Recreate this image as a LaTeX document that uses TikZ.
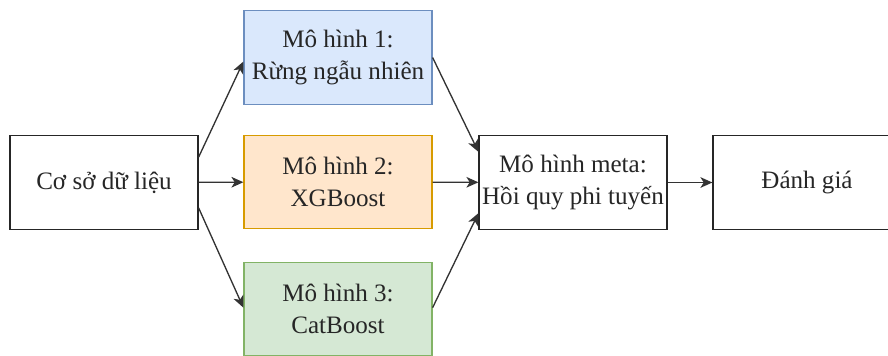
\documentclass[tikz,border=0pt]{standalone}
\usepackage{fontspec}
\setmainfont{Liberation Serif}
\usepackage{tikz}
\usetikzlibrary{arrows.meta}

\definecolor{blueFill}{HTML}{DAE8FC}
\definecolor{blueLine}{HTML}{6C8EBF}
\definecolor{orangeFill}{HTML}{FFE6CC}
\definecolor{orangeLine}{HTML}{D79B00}
\definecolor{greenFill}{HTML}{D5E8D4}
\definecolor{greenLine}{HTML}{82B366}

\tikzset{
  box/.style={draw=black!85,line width=0.9pt,minimum width=141pt,minimum height=70pt,
    inner sep=0pt,align=center,text=black!85,font=\fontsize{18.8}{24}\selectfont},
  link/.style={draw=black!80,line width=1pt,-{Stealth[length=9pt,width=8pt,inset=2.5pt]}}
}

\begin{document}
\begin{tikzpicture}[x=0.75pt,y=-0.75pt]
\useasboundingbox (0,0) rectangle (888,355);
\clip (0,0) rectangle (888,355);

\node[box] (data) at (104,182.5) {Cơ sở dữ liệu};
\node[box,fill=blueFill,draw=blueLine] (mod1) at (338,57.5) {Mô hình 1:\\Rừng ngẫu nhiên};
\node[box,fill=orangeFill,draw=orangeLine] (mod2) at (338,182) {Mô hình 2:\\XGBoost};
\node[box,fill=greenFill,draw=greenLine] (mod3) at (338,309) {Mô hình 3:\\CatBoost};
\node[box] (meta) at (573,182.5) {Mô hình meta:\\Hồi quy phi tuyến};
\node[box] (eval) at (807,182.5) {Đánh giá};

\draw[link] ([yshift=19pt]data.east) -- ([yshift=-3pt]mod1.west);
\draw[link] (data) -- (mod2);
\draw[link] ([yshift=-19pt]data.east) -- ([yshift=1pt]mod3.west);
\draw[link] (mod1.east) -- ([yshift=23pt]meta.west);
\draw[link] (mod2) -- (meta);
\draw[link] ([yshift=1pt]mod3.east) -- ([yshift=-23pt]meta.west);
\draw[link] (meta) -- (eval);

\end{tikzpicture}
\end{document}
